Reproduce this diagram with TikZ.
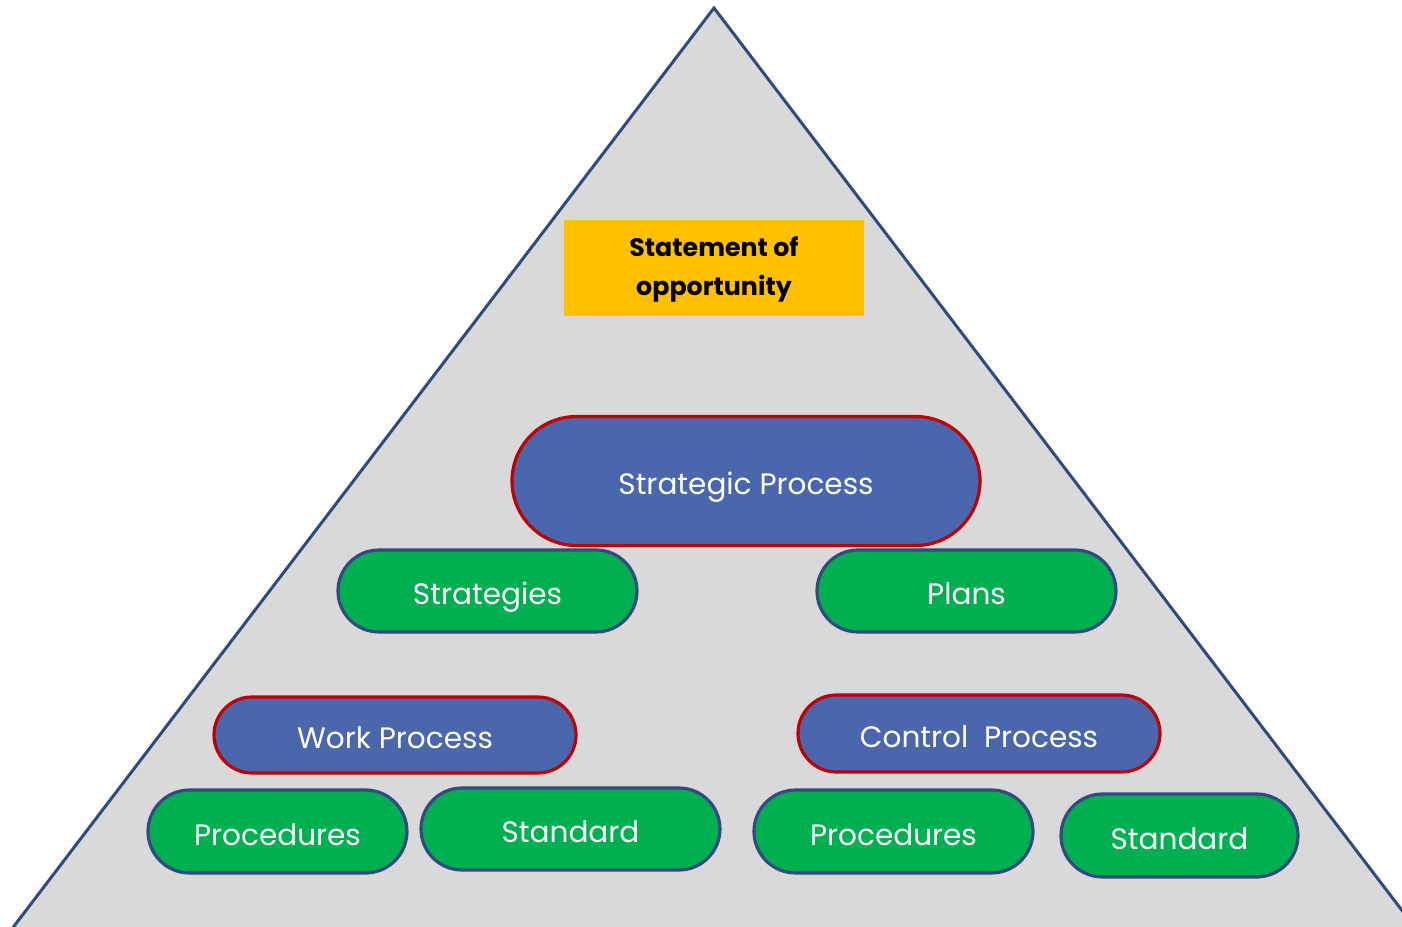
\documentclass[tikz,border=0pt]{standalone}
\usepackage{fontspec}
\setmainfont{Poppins}
\usetikzlibrary{shapes,positioning,calc}
\definecolor{pyramidgray}{RGB}{217,217,217}
\definecolor{pyramidline}{RGB}{47,74,127}
\definecolor{stmtyellow}{RGB}{255,192,0}
\definecolor{procblue}{RGB}{74,102,172}
\definecolor{procred}{RGB}{192,0,0}
\definecolor{itemgreen}{RGB}{0,176,80}
\definecolor{itemline}{RGB}{52,72,130}

\begin{document}
\begin{tikzpicture}[
    capsule/.style={rounded rectangle, inner sep=0pt, text height=0.9em, text depth=0.13em, font=\fontsize{8.4}{10}\selectfont, text=white},
    process/.style={capsule, fill=procblue, draw=procred, line width=0.9pt},
    item/.style={capsule, fill=itemgreen, draw=itemline, line width=0.9pt},
    statement/.style={rectangle, fill=stmtyellow, minimum width=3cm, minimum height=0.96cm, inner sep=0pt, font=\fontsize{7.2}{11}\selectfont\bfseries}
]

% === PAGE: 1 unit = 100 px of the reference, origin bottom left ===
\useasboundingbox (0,0) rectangle (14.02,9.26);
\clip (0,0) rectangle (14.02,9.26);

% Pyramid
\draw[fill=pyramidgray, draw=pyramidline, line width=0.85pt, line join=miter]
    (7.14,9.18) -- (14.52,-0.5) -- (-0.24,-0.5) -- cycle;

% Top of the pyramid
\node[statement] (statement) at (7.14, 6.58)
    {\raisebox{-1.3pt}{\begin{tabular}{@{}c@{}}Statement of\\opportunity\end{tabular}}};

% Strategic level
\node[process, minimum width=4.68cm, minimum height=1.29cm] (strategic) at (7.46, 4.45) {Strategic Process};
\node[item, minimum width=2.99cm, minimum height=0.82cm] (strategies) at (4.875, 3.35) {Strategies};
\node[item, minimum width=2.99cm, minimum height=0.82cm] (plans) at (9.665, 3.35) {Plans};

% Work level
\node[process, minimum width=3.62cm, minimum height=0.76cm] (work) at (3.95, 1.91) {Work Process};
\node[item, minimum width=2.59cm, minimum height=0.83cm] (proc-left) at (2.775, 0.945) {Procedures};
\node[item, minimum width=2.99cm, minimum height=0.82cm] (std-left) at (5.705, 0.97) {Standard};

% Control level
\node[process, minimum width=3.62cm, minimum height=0.77cm] (control) at (9.79, 1.925) {Control~~Process};
\node[item, minimum width=2.79cm, minimum height=0.83cm] (proc-right) at (8.935, 0.945) {Procedures};
\node[item, minimum width=2.37cm, minimum height=0.83cm] (std-right) at (11.795, 0.905) {Standard};

\end{tikzpicture}
\end{document}
